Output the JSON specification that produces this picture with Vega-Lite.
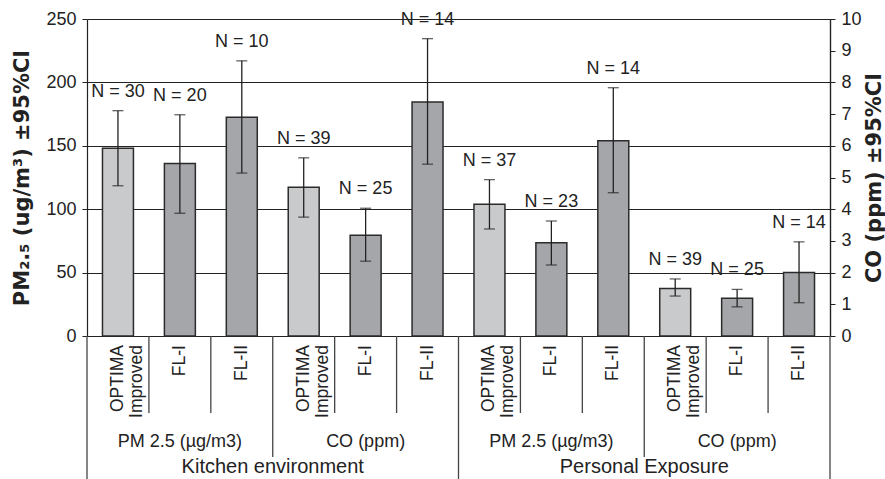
{
  "$schema": "https://vega.github.io/schema/vega-lite/v6.json",
  "padding": {"left": 11, "top": 10, "right": 1, "bottom": 0},
  "background": "white",
  "config": {
    "view": {"stroke": null},
    "font": "Liberation Sans",
    "axis": {"labelOverlap": false, "labelBound": false}
  },
  "spacing": 0,
  "bounds": "flush",
  "datasets": {
    "bars": [
      {"id": 1, "setting": "Kitchen environment", "unit": "PM", "pollutant": "PM 2.5 (µg/m3)", "stove": "OPTIMA Improved", "mean": 148, "lo": 118.5, "hi": 177.7, "nlabel": "N = 30"},
      {"id": 2, "setting": "Kitchen environment", "unit": "PM", "pollutant": "PM 2.5 (µg/m3)", "stove": "FL-I", "mean": 136, "lo": 96.8, "hi": 174.5, "nlabel": "N = 20"},
      {"id": 3, "setting": "Kitchen environment", "unit": "PM", "pollutant": "PM 2.5 (µg/m3)", "stove": "FL-II", "mean": 172.5, "lo": 128.5, "hi": 217, "nlabel": "N = 10"},
      {"id": 4, "setting": "Kitchen environment", "unit": "CO", "pollutant": "CO (ppm)", "stove": "OPTIMA Improved", "mean": 4.69, "lo": 3.75, "hi": 5.62, "nlabel": "N = 39"},
      {"id": 5, "setting": "Kitchen environment", "unit": "CO", "pollutant": "CO (ppm)", "stove": "FL-I", "mean": 3.18, "lo": 2.36, "hi": 4.03, "nlabel": "N = 25"},
      {"id": 6, "setting": "Kitchen environment", "unit": "CO", "pollutant": "CO (ppm)", "stove": "FL-II", "mean": 7.38, "lo": 5.42, "hi": 9.38, "nlabel": "N = 14"},
      {"id": 7, "setting": "Personal Exposure", "unit": "PM", "pollutant": "PM 2.5 (µg/m3)", "stove": "OPTIMA Improved", "mean": 104, "lo": 84.4, "hi": 123.3, "nlabel": "N = 37"},
      {"id": 8, "setting": "Personal Exposure", "unit": "PM", "pollutant": "PM 2.5 (µg/m3)", "stove": "FL-I", "mean": 73.6, "lo": 56, "hi": 90.7, "nlabel": "N = 23"},
      {"id": 9, "setting": "Personal Exposure", "unit": "PM", "pollutant": "PM 2.5 (µg/m3)", "stove": "FL-II", "mean": 154, "lo": 113, "hi": 195.8, "nlabel": "N = 14"},
      {"id": 10, "setting": "Personal Exposure", "unit": "CO", "pollutant": "CO (ppm)", "stove": "OPTIMA Improved", "mean": 1.5, "lo": 1.26, "hi": 1.8, "nlabel": "N = 39"},
      {"id": 11, "setting": "Personal Exposure", "unit": "CO", "pollutant": "CO (ppm)", "stove": "FL-I", "mean": 1.19, "lo": 0.92, "hi": 1.47, "nlabel": "N = 25"},
      {"id": 12, "setting": "Personal Exposure", "unit": "CO", "pollutant": "CO (ppm)", "stove": "FL-II", "mean": 2.0, "lo": 1.05, "hi": 2.97, "nlabel": "N = 14"}
    ],
    "seps": [
      {"id": 1, "edge": "left", "top": 0, "depth": 3},
      {"id": 2, "edge": "left", "top": 0, "depth": 1},
      {"id": 3, "edge": "left", "top": 0, "depth": 1},
      {"id": 4, "edge": "left", "top": 0, "depth": 2},
      {"id": 5, "edge": "left", "top": 0, "depth": 1},
      {"id": 6, "edge": "left", "top": 0, "depth": 1},
      {"id": 7, "edge": "left", "top": 0, "depth": 3},
      {"id": 8, "edge": "left", "top": 0, "depth": 1},
      {"id": 9, "edge": "left", "top": 0, "depth": 1},
      {"id": 10, "edge": "left", "top": 0, "depth": 2},
      {"id": 11, "edge": "left", "top": 0, "depth": 1},
      {"id": 12, "edge": "left", "top": 0, "depth": 1},
      {"id": 12, "edge": "right", "top": 0, "depth": 3}
    ]
  },
  "vconcat": [
    {
      "width": 743,
      "height": 317,
      "data": {"name": "bars"},
      "layer": [
        {
          "transform": [{"filter": "datum.unit === 'PM'"}],
          "encoding": {
            "x": {"field": "id", "type": "ordinal", "scale": {"domain": [1,2,3,4,5,6,7,8,9,10,11,12], "paddingInner": 0.5, "paddingOuter": 0.25}, "axis": null}
          },
          "layer": [
            {
              "mark": {"type": "bar", "stroke": "#2b2b2b", "strokeWidth": 1.5},
              "encoding": {
                "y": {"field": "mean", "type": "quantitative", "title": "PM₂.₅ (ug/m³) ±95%CI", "scale": {"domain": [0, 250], "nice": false},
                  "axis": {"orient": "left", "values": [0, 50, 100, 150, 200, 250], "grid": true, "gridColor": "#222", "gridWidth": 1, "gridOpacity": 1,
                    "domainColor": "#222", "domainWidth": 1.2, "tickColor": "#222", "tickSize": 5, "labelFontSize": 18, "labelColor": "#222", "labelPadding": 6,
                    "titleFont": "DejaVu Sans", "titleFontSize": 21, "titleFontWeight": "bold", "titleColor": "#222", "titlePadding": 13}},
                "color": {"field": "stove", "type": "nominal", "scale": {"domain": ["OPTIMA Improved", "FL-I", "FL-II"], "range": ["#c9cacc", "#a5a6a9", "#a5a6a9"]}, "legend": null}
              }
            },
            {
              "mark": {"type": "rule", "color": "#222", "strokeWidth": 1.3},
              "encoding": {"y": {"field": "lo", "type": "quantitative", "title": "PM₂.₅ (ug/m³) ±95%CI"}, "y2": {"field": "hi"}}
            },
            {
              "mark": {"type": "tick", "color": "#222", "thickness": 1.3, "size": 11},
              "encoding": {"y": {"field": "lo", "type": "quantitative", "title": "PM₂.₅ (ug/m³) ±95%CI"}}
            },
            {
              "mark": {"type": "tick", "color": "#222", "thickness": 1.3, "size": 11},
              "encoding": {"y": {"field": "hi", "type": "quantitative", "title": "PM₂.₅ (ug/m³) ±95%CI"}}
            },
            {
              "mark": {"type": "text", "fontSize": 18, "dy": -19, "color": "#222", "baseline": "middle"},
              "encoding": {"y": {"field": "hi", "type": "quantitative", "title": "PM₂.₅ (ug/m³) ±95%CI"}, "text": {"field": "nlabel", "type": "nominal"}}
            }
          ]
        },
        {
          "transform": [{"filter": "datum.unit === 'CO'"}],
          "encoding": {
            "x": {"field": "id", "type": "ordinal", "scale": {"domain": [1,2,3,4,5,6,7,8,9,10,11,12], "paddingInner": 0.5, "paddingOuter": 0.25}, "axis": null}
          },
          "layer": [
            {
              "mark": {"type": "bar", "stroke": "#2b2b2b", "strokeWidth": 1.5},
              "encoding": {
                "y": {"field": "mean", "type": "quantitative", "title": "CO (ppm) ±95%CI", "scale": {"domain": [0, 10], "nice": false},
                  "axis": {"orient": "right", "values": [0, 2, 4, 6, 8, 10], "grid": false, "labelOverlap": false,
                    "domainColor": "#222", "domainWidth": 1.2, "tickColor": "#222", "tickSize": 5, "labelFontSize": 18, "labelColor": "#222", "labelPadding": 6,
                    "titleFont": "DejaVu Sans", "titleFontSize": 21, "titleFontWeight": "bold", "titleColor": "#222", "titleAngle": 270, "titleBaseline": "top", "titlePadding": 2}},
                "color": {"field": "stove", "type": "nominal", "legend": null}
              }
            },
            {
              "mark": {"type": "rule", "color": "#222", "strokeWidth": 1.3},
              "encoding": {
                "y": {"field": "lo", "type": "quantitative", "title": null,
                  "axis": {"orient": "right", "values": [1, 3, 5, 7, 9], "grid": false, "labelOverlap": false, "title": null,
                    "domainColor": "#222", "domainWidth": 1.2, "tickColor": "#222", "tickSize": 5, "labelFontSize": 18, "labelColor": "#222", "labelPadding": 6}},
                "y2": {"field": "hi"}
              }
            },
            {
              "mark": {"type": "tick", "color": "#222", "thickness": 1.3, "size": 11},
              "encoding": {"y": {"field": "lo", "type": "quantitative", "axis": null}}
            },
            {
              "mark": {"type": "tick", "color": "#222", "thickness": 1.3, "size": 11},
              "encoding": {"y": {"field": "hi", "type": "quantitative", "axis": null}}
            },
            {
              "mark": {"type": "text", "fontSize": 18, "dy": -19, "color": "#222", "baseline": "middle"},
              "encoding": {"y": {"field": "hi", "type": "quantitative", "axis": null}, "text": {"field": "nlabel", "type": "nominal"}}
            }
          ],
          "resolve": {"axis": {"y": "independent"}}
        }
      ],
      "resolve": {"scale": {"y": "independent"}}
    },
    {
      "width": 743,
      "height": 143,
      "layer": [
        {
          "data": {"name": "seps"},
          "transform": [{"filter": "datum.edge === 'left'"}],
          "mark": {"type": "rule", "color": "#444", "strokeWidth": 1.3},
          "encoding": {
            "x": {"field": "id", "type": "ordinal", "bandPosition": 0, "scale": {"domain": [1,2,3,4,5,6,7,8,9,10,11,12], "paddingInner": 0, "paddingOuter": 0}, "axis": null},
            "y": {"field": "top", "type": "quantitative", "scale": {"domain": [0, 1, 2, 3], "range": [0, 77, 121, 143], "nice": false, "zero": false}, "axis": null},
            "y2": {"field": "depth"}
          }
        },
        {
          "data": {"name": "seps"},
          "transform": [{"filter": "datum.edge === 'right'"}],
          "mark": {"type": "rule", "color": "#444", "strokeWidth": 1.3},
          "encoding": {
            "x": {"field": "id", "type": "ordinal", "bandPosition": 1, "axis": null},
            "y": {"field": "top", "type": "quantitative", "axis": null},
            "y2": {"field": "depth"}
          }
        },
        {
          "data": {"name": "bars"},
          "mark": {"type": "text", "angle": 270, "align": "right", "baseline": "middle", "fontSize": 17.5, "lineBreak": " ", "lineHeight": 19, "dx": -9, "color": "#222"},
          "encoding": {
            "x": {"field": "id", "type": "ordinal", "axis": null},
            "y": {"datum": 0, "type": "quantitative", "axis": null},
            "text": {"field": "stove", "type": "nominal"}
          }
        },
        {
          "data": {"name": "bars"},
          "transform": [{"aggregate": [{"op": "mean", "field": "id", "as": "mid"}], "groupby": ["setting", "pollutant"]}],
          "mark": {"type": "text", "baseline": "middle", "fontSize": 18, "dy": 7, "color": "#222"},
          "encoding": {
            "x": {"field": "mid", "type": "ordinal", "axis": null},
            "y": {"datum": 1.5, "type": "quantitative", "axis": null},
            "text": {"field": "pollutant", "type": "nominal"}
          }
        },
        {
          "data": {"name": "bars"},
          "transform": [{"filter": "datum.unit === 'PM'"}, {"aggregate": [{"op": "max", "field": "id", "as": "edge"}], "groupby": ["setting"]}],
          "mark": {"type": "text", "baseline": "middle", "fontSize": 20, "dy": -1, "color": "#222"},
          "encoding": {
            "x": {"field": "edge", "type": "ordinal", "bandPosition": 1, "axis": null},
            "y": {"datum": 2.5, "type": "quantitative", "axis": null},
            "text": {"field": "setting", "type": "nominal"}
          }
        }
      ]
    }
  ]
}
